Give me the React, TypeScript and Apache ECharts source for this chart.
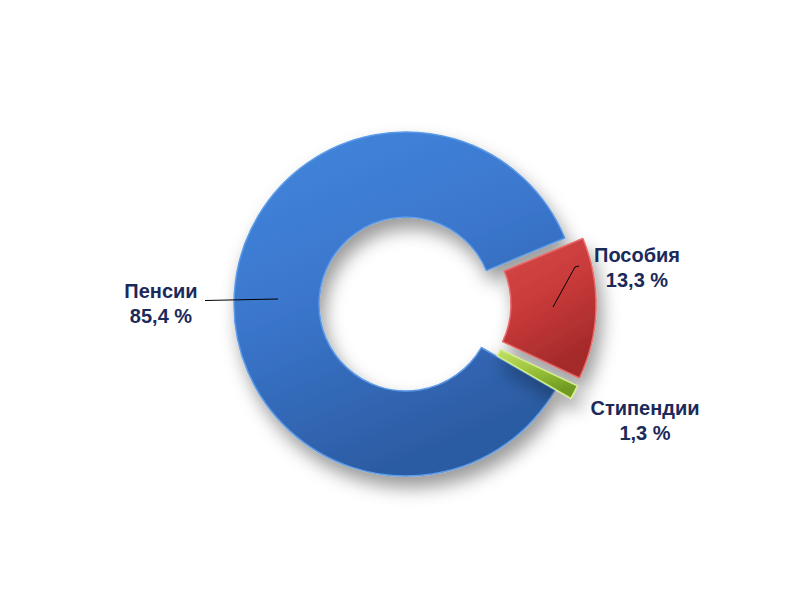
import React, { useEffect, useRef } from "react";
import * as echarts from "echarts";

const categories = ["Пенсии", "Пособия", "Стипендии"];
const values = [85.4, 13.3, 1.3];
const exploded = [false, true, true];

const fills = [
  ["#4387de", "#3a76cc", "#2c5ca3"],
  ["#d64c4c", "#c93a3a", "#a52a2a"],
  ["#c4e06a", "#9cc43a", "#6f9a22"],
];
const borders = ["#5b9be8", "#e86a6a", "#d6ef8a"];

const labelPos = [
  { x: 161, y: 303, line: [[278, 299], [205, 300.5]] },
  { x: 637, y: 267, line: [[553, 307], [575, 267], [579, 266]] },
  { x: 645, y: 420, line: null as number[][] | null },
];

const fmt = (v: number) => String(v).replace(".", ",") + " %";

export default function App() {
  const ref = useRef<HTMLDivElement>(null);
  useEffect(() => {
    document.body.style.margin = "0";
    if (!ref.current) return;
    const chart = echarts.init(ref.current, undefined, { renderer: "svg" });
    const data = categories.map((name, i) => ({
      name,
      value: values[i],
      selected: exploded[i],
      itemStyle: {
        color: new echarts.graphic.LinearGradient(0, 0, 0.4, 1, [
          { offset: 0, color: fills[i][0] },
          { offset: 0.5, color: fills[i][1] },
          { offset: 1, color: fills[i][2] },
        ]),
        borderColor: borders[i],
        borderWidth: 1.5,
      },
    }));
    const graphics: any[] = [];
    categories.forEach((name, i) => {
      const lp = labelPos[i];
      graphics.push({
        type: "text",
        z: 10,
        style: {
          text: name + "\n" + fmt(values[i]),
          x: lp.x,
          y: lp.y,
          textAlign: "center",
          textVerticalAlign: "middle",
          font: 'bold 20px "Liberation Sans", Arial, sans-serif',
          lineHeight: 25,
          fill: "#1c2a5a",
        },
      });
      if (lp.line) {
        graphics.push({
          type: "polyline",
          z: 10,
          shape: { points: lp.line },
          style: { stroke: "#000000", lineWidth: 1, fill: null },
        });
      }
    });
    chart.setOption({
      animation: false,
      backgroundColor: "#ffffff",
      graphic: graphics,
      series: [
        {
          type: "pie",
          center: [406, 304],
          radius: [87, 172],
          startAngle: 330,
          clockwise: true,
          selectedMode: "multiple",
          selectedOffset: 18,
          itemStyle: {
            shadowBlur: 18,
            shadowOffsetX: 5,
            shadowOffsetY: 11,
            shadowColor: "rgba(0,0,0,0.4)",
          },
          label: { show: false },
          labelLine: { show: false },
          emphasis: { disabled: true },
          data,
        },
      ],
    });
    return () => chart.dispose();
  }, []);
  return <div ref={ref} style={{ width: 800, height: 602 }} />;
}
